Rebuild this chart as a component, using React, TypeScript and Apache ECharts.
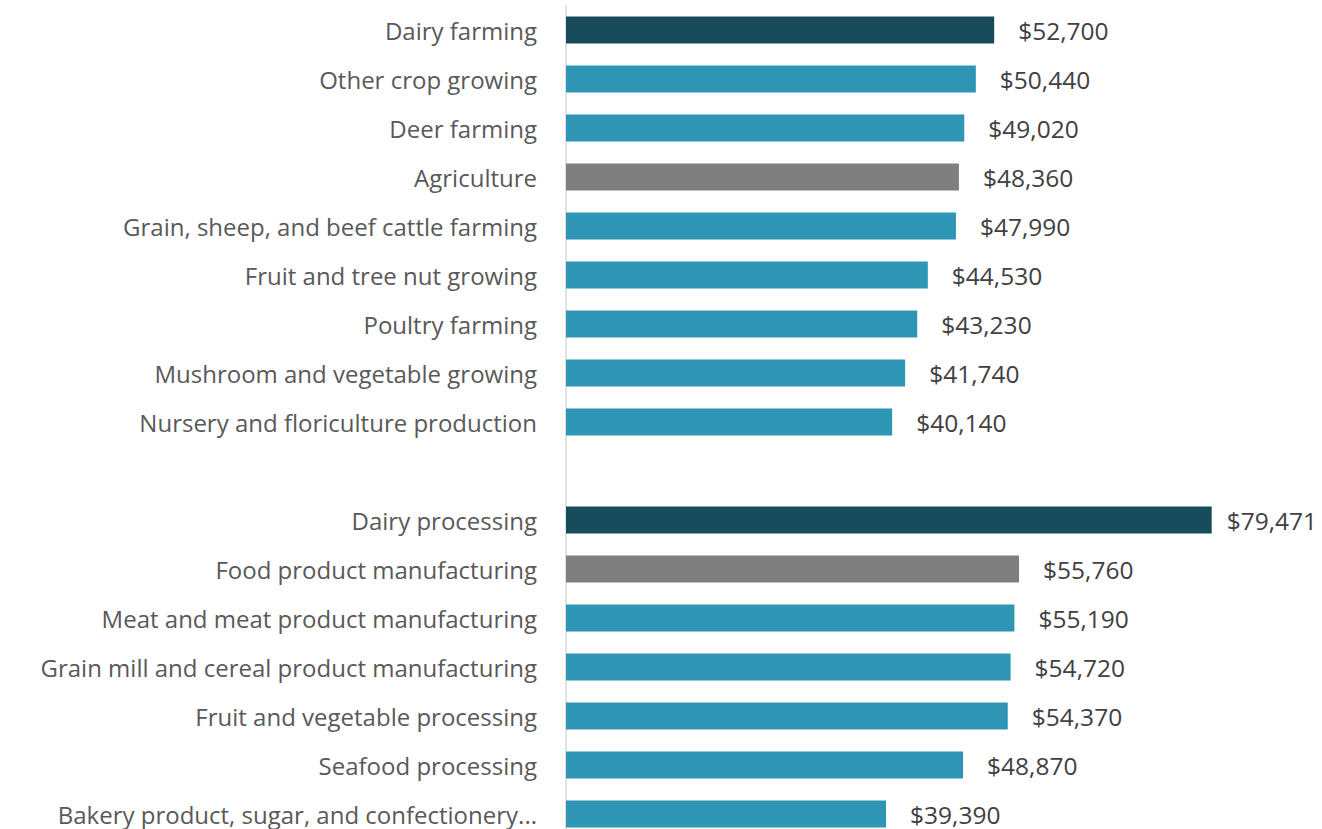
import React, { useEffect, useRef } from "react";
import * as echarts from "echarts";

const categories = [
  "Dairy farming",
  "Other crop growing",
  "Deer farming",
  "Agriculture",
  "Grain, sheep, and beef cattle farming",
  "Fruit and tree nut growing",
  "Poultry farming",
  "Mushroom and vegetable growing",
  "Nursery and floriculture production",
  "",
  "Dairy processing",
  "Food product manufacturing",
  "Meat and meat product manufacturing",
  "Grain mill and cereal product manufacturing",
  "Fruit and vegetable processing",
  "Seafood processing",
  "Bakery product, sugar, and confectionery...",
];

const values: (number | null)[] = [
  52700, 50440, 49020, 48360, 47990, 44530, 43230, 41740, 40140, null,
  79471, 55760, 55190, 54720, 54370, 48870, 39390,
];

// "dairy" = highlighted, "total" = industry total, "sub" = sub-industry
const kinds = [
  "dairy", "sub", "sub", "total", "sub", "sub", "sub", "sub", "sub", "gap",
  "dairy", "total", "sub", "sub", "sub", "sub", "sub",
];

const kindColors: Record<string, string> = {
  dairy: "#174A5A",
  total: "#7F7F7F",
  sub: "#2E96B4",
  gap: "#2E96B4",
};

export default function App() {
  const ref = useRef<HTMLDivElement>(null);
  useEffect(() => {
    if (!ref.current) return;
    const chart = echarts.init(ref.current, undefined, { renderer: "svg" });
    const font = "'Open Sans', 'Noto Sans', sans-serif";
    chart.setOption({
      animation: false,
      grid: { left: 566, top: 5.5, width: 650, height: 833, containLabel: false },
      xAxis: {
        type: "value",
        min: 0,
        max: 80000,
        show: false,
        splitLine: { show: false },
      },
      yAxis: {
        type: "category",
        inverse: true,
        data: categories,
        axisTick: { show: false },
        axisLine: { show: true, lineStyle: { color: "#D9D9D9", width: 1.5 } },
        axisLabel: {
          margin: 29,
          color: "#595959",
          fontSize: 24,
          fontFamily: font,
        },
      },
      series: [
        {
          type: "bar",
          barWidth: 27,
          data: values.map((v, i) => ({
            value: v,
            itemStyle: { color: kindColors[kinds[i]] },
            label: { distance: v != null && v > 70000 ? 15 : 24 },
          })),
          label: {
            show: true,
            position: "right",
            color: "#404040",
            fontSize: 24.5,
            fontFamily: font,
            formatter: (p: any) =>
              p.value == null ? "" : "$" + Number(p.value).toLocaleString("en-US"),
          },
        },
      ],
    });
    return () => chart.dispose();
  }, []);
  return (
    <div style={{ position: "absolute", left: 0, top: 0, width: 1322, height: 829, overflow: "hidden" }}>
      <div ref={ref} style={{ width: 1322, height: 845 }} />
    </div>
  );
}
